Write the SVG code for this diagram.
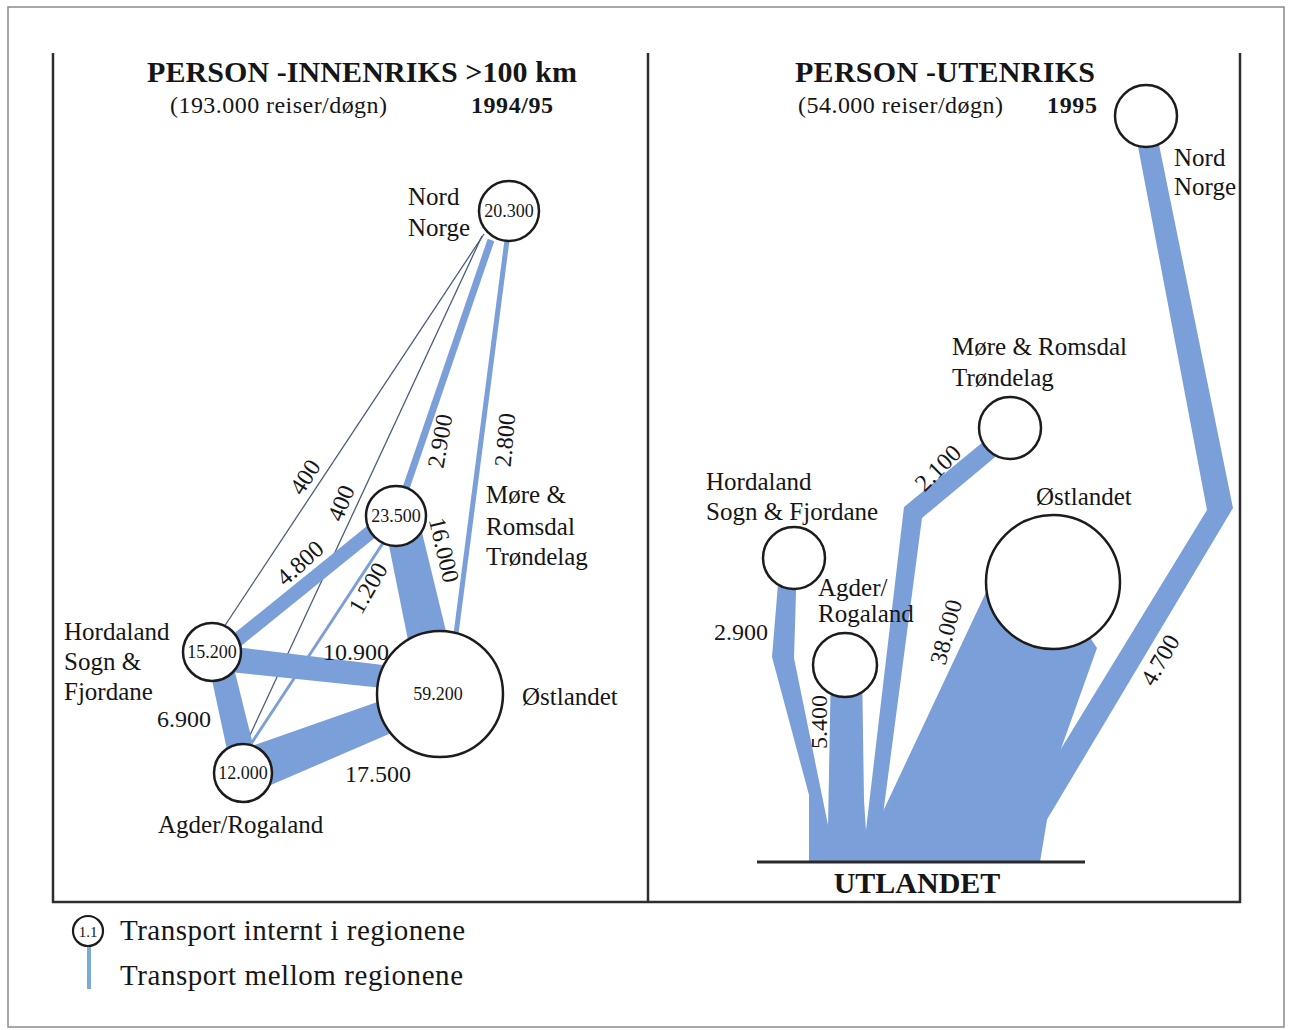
<svg xmlns="http://www.w3.org/2000/svg" width="1289" height="1030" viewBox="0 0 1289 1030">
<style>
.bg{fill:#ffffff}
.band{fill:#7b9fd8;stroke:none}
.bl{stroke:#7b9fd8;fill:none;stroke-linecap:butt}
.thin{stroke:#4a5d80;stroke-width:1.3;fill:none}
.node{fill:#ffffff;stroke:#1c1c1c;stroke-width:2.5}
.t{font-family:"Liberation Serif","Times New Roman",serif;fill:#161616}
.lab{font-size:25px}
.num{font-size:24px}
.cn{font-size:18px;text-anchor:middle}
.title{font-size:30px;font-weight:bold}
.sub{font-size:24px}
.frame{fill:none;stroke:#2e2e2e;stroke-width:2.5}
</style>
<rect class="bg" x="0" y="0" width="1289" height="1030"/>
<rect x="8" y="7" width="1276" height="1020" fill="none" stroke="#8a8a8a" stroke-width="1.5"/>
<path class="frame" d="M53,53 V902 H1240 V53 M648,53 V902"/>

<g id="titles">
<text class="t title" x="147" y="82" textLength="430">PERSON -INNENRIKS &gt;100 km</text>
<text class="t sub" x="170" y="113" textLength="217">(193.000 reiser/døgn)</text>
<text class="t sub" x="471" y="113" font-weight="bold" textLength="82">1994/95</text>
<text class="t title" x="795" y="82" textLength="300">PERSON -UTENRIKS</text>
<text class="t sub" x="798" y="113" textLength="205">(54.000 reiser/døgn)</text>
<text class="t sub" x="1047" y="113" font-weight="bold" textLength="50">1995</text>
</g>

<g id="connectors">
<line class="thin" x1="484" y1="234" x2="222" y2="630"/>
<line class="thin" x1="482" y1="236" x2="244" y2="748"/>
<line class="bl" x1="491" y1="240" x2="404" y2="494" stroke-width="7"/>
<line class="bl" x1="507" y1="240" x2="456" y2="634" stroke-width="5"/>
<line class="bl" x1="372" y1="531" x2="236" y2="641" stroke-width="14"/>
<line class="bl" x1="385" y1="540" x2="249" y2="747" stroke-width="3"/>
<polygon class="band" points="383,516 418,516 453,660 412,660"/>
<polygon class="band" points="212,644 440,672 440,694 212,670"/>
<polygon class="band" points="206,652 230,652 260,773 232,773"/>
<polygon class="band" points="243,749 440,680 440,712 243,797"/>
<polygon class="band" points="780,560 797,560 794,658 829,830 822,862 809,862 809,795 772,657"/>
<polygon class="band" points="831,665 862,665 864,800 868,862 815,862 828,827"/>
<polygon class="band" points="1000,428 1012,443 922,518 881,830 870,862 858,862 866,830 904,507"/>
<polygon class="band" points="988,588 1053,582 1097,648 1057,760 1040,862 858,862 878,822"/>
<polygon class="band" points="1133,120 1154,120 1233,508 1036,838 1036,862 1000,862 1056,757 1207,510"/>
<line x1="757" y1="862" x2="1085" y2="862" stroke="#2a2a2a" stroke-width="3"/>
</g>

<g id="edge-labels">
<g transform="translate(305,477) rotate(-57)"><text class="t num" x="0" y="8" text-anchor="middle">400</text></g>
<g transform="translate(341,503) rotate(-68)"><text class="t num" x="0" y="8" text-anchor="middle">400</text></g>
<g transform="translate(440,441) rotate(-80)"><text class="t num" x="0" y="8" text-anchor="middle">2.900</text></g>
<g transform="translate(505,440) rotate(-85)"><text class="t num" x="0" y="8" text-anchor="middle">2.800</text></g>
<g transform="translate(300,563) rotate(-42)"><text class="t num" x="0" y="8" text-anchor="middle">4.800</text></g>
<g transform="translate(368,588) rotate(-60)"><text class="t num" x="0" y="8" text-anchor="middle">1.200</text></g>
<g transform="translate(444,550) rotate(77)"><text class="t num" x="0" y="8" text-anchor="middle">16.000</text></g>
<text class="t num" x="323" y="660">10.900</text>
<text class="t num" x="157" y="727">6.900</text>
<text class="t num" x="345" y="782">17.500</text>
<g transform="translate(938,468) rotate(-45)"><text class="t num" x="0" y="8" text-anchor="middle">2.100</text></g>
<g transform="translate(946,632) rotate(-75)"><text class="t num" x="0" y="8" text-anchor="middle">38.000</text></g>
<g transform="translate(819,722) rotate(-90)"><text class="t num" x="0" y="8" text-anchor="middle">5.400</text></g>
<g transform="translate(1160,660) rotate(-60)"><text class="t num" x="0" y="8" text-anchor="middle">4.700</text></g>
<text class="t num" x="714" y="640">2.900</text>
</g>

<g id="l-nord">
<circle class="node" cx="509" cy="211" r="30"/>
<text class="t cn" x="509" y="217">20.300</text>
<text class="t lab" x="408" y="205">Nord</text>
<text class="t lab" x="408" y="236">Norge</text>
</g>
<g id="l-more">
<circle class="node" cx="396" cy="516" r="30"/>
<text class="t cn" x="396" y="522">23.500</text>
<text class="t lab" x="486" y="503">Møre &amp;</text>
<text class="t lab" x="486" y="535">Romsdal</text>
<text class="t lab" x="486" y="565">Trøndelag</text>
</g>
<g id="l-hordaland">
<circle class="node" cx="212" cy="652" r="29"/>
<text class="t cn" x="212" y="658">15.200</text>
<text class="t lab" x="64" y="640">Hordaland</text>
<text class="t lab" x="64" y="670">Sogn &amp;</text>
<text class="t lab" x="64" y="700">Fjordane</text>
</g>
<g id="l-agder">
<circle class="node" cx="243" cy="773" r="29"/>
<text class="t cn" x="243" y="779">12.000</text>
<text class="t lab" x="158" y="833">Agder/Rogaland</text>
</g>
<g id="l-ostlandet">
<circle class="node" cx="440" cy="694" r="63"/>
<text class="t cn" x="438" y="700">59.200</text>
<text class="t lab" x="522" y="705">Østlandet</text>
</g>

<g id="r-nord">
<circle class="node" cx="1146" cy="116" r="31"/>
<text class="t lab" x="1174" y="166">Nord</text>
<text class="t lab" x="1174" y="195">Norge</text>
</g>
<g id="r-more">
<circle class="node" cx="1010" cy="428" r="31"/>
<text class="t lab" x="952" y="355">Møre &amp; Romsdal</text>
<text class="t lab" x="952" y="386">Trøndelag</text>
</g>
<g id="r-hordaland">
<circle class="node" cx="794" cy="558" r="31"/>
<text class="t lab" x="706" y="490">Hordaland</text>
<text class="t lab" x="706" y="520">Sogn &amp; Fjordane</text>
</g>
<g id="r-agder">
<circle class="node" cx="845" cy="665" r="32"/>
<text class="t lab" x="818" y="596">Agder/</text>
<text class="t lab" x="818" y="622">Rogaland</text>
</g>
<g id="r-ostlandet">
<circle class="node" cx="1053" cy="582" r="67"/>
<text class="t lab" x="1036" y="505">Østlandet</text>
</g>
<g id="r-utlandet">
<text class="t title" x="917" y="893" text-anchor="middle">UTLANDET</text>
</g>

<g id="legend">
<line x1="89" y1="946" x2="89" y2="989" stroke="#7aaad8" stroke-width="4"/>
<circle cx="88" cy="931" r="15" fill="#fff" stroke="#1c1c1c" stroke-width="2.2"/>
<text class="t" x="88" y="937" font-size="15" text-anchor="middle">1.1</text>
<text class="t" x="120" y="940" font-size="29" textLength="345">Transport internt i regionene</text>
<text class="t" x="120" y="985" font-size="29" textLength="343">Transport mellom regionene</text>
</g>
</svg>
